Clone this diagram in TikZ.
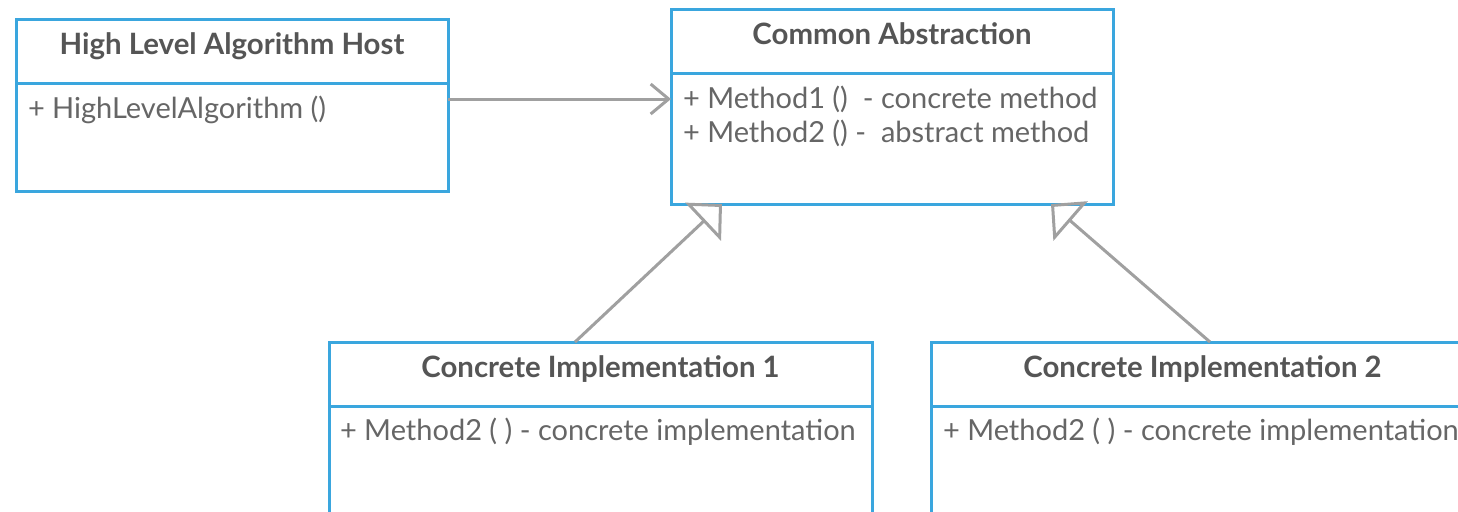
\documentclass[tikz,border=0pt]{standalone}
\usepackage{fontspec}
\setmainfont{Lato}
\usetikzlibrary{arrows.meta, positioning}
\definecolor{umlblue}{HTML}{3AA6DE}
\definecolor{linkgray}{HTML}{A0A0A0}
\definecolor{titlegray}{HTML}{555555}
\definecolor{textgray}{HTML}{666666}

\begin{document}
\begin{tikzpicture}[
    every node/.style={inner sep=0pt, outer sep=0pt},
    hd/.style={draw=umlblue, line width=1.5pt, fill=white, minimum height=32pt, text height=8pt, text depth=5pt, font=\fontsize{14.7}{17}\selectfont\bfseries, text=titlegray},
    bd/.style={draw=umlblue, line width=1.5pt, fill=white},
    mt/.style={anchor=base west, font=\fontsize{14.5}{17}\selectfont, text=textgray},
    assoc/.style={-{Straight Barb[length=9pt, width=15pt]}, draw=linkgray, line width=1.5pt},
    inh/.style={-{Triangle[open, length=13pt, width=26pt]}, draw=linkgray, line width=1.5pt}
]
\useasboundingbox (0,0) rectangle (729pt,-255.5pt);
\clip (0,0) rectangle (729pt,-255.5pt);

% host class
\node[hd, minimum width=216pt] (hostH) at (116pt,-25.5pt) {High Level Algorithm Host};
\node[bd, minimum width=216pt, minimum height=54pt, below=0pt of hostH] (hostB) {};
\node[mt] (hostM) at ([shift={(6pt,-17.5pt)}]hostB.north west) {+ HighLevelAlgorithm ()};

% abstraction
\node[hd, minimum width=221pt] (absH) at (446pt,-20.5pt) {Common Abstraction};
\node[bd, minimum width=221pt, minimum height=65.5pt, below=0pt of absH] (absB) {};
\node[mt] (absMa) at ([shift={(6pt,-17.5pt)}]absB.north west) {+ Method1 ()\ \ - concrete method};
\node[mt] (absMb) at ([shift={(6pt,-34.5pt)}]absB.north west) {+ Method2 () -\ \ abstract method};

% implementations
\node[hd, minimum width=271.5pt] (implAH) at (300.25pt,-187pt) {Concrete Implementation 1};
\node[bd, minimum width=271.5pt, minimum height=77pt, below=0pt of implAH] (implAB) {};
\node[mt] (implAM) at ([shift={(5.5pt,-17pt)}]implAB.north west) {+ Method2 ( ) - concrete implementation};

\node[hd, minimum width=271.5pt] (implBH) at (601.25pt,-187pt) {Concrete Implementation 2};
\node[bd, minimum width=271.5pt, minimum height=77pt, below=0pt of implBH] (implBB) {};
\node[mt] (implBM) at ([shift={(6pt,-17pt)}]implBB.north west) {+ Method2 ( ) - concrete implementation};

\draw[assoc] ([yshift=19pt]hostB.east) -- ([yshift=19.75pt]absB.west);
\draw[inh] ([xshift=-12.75pt]implAH.north) -- ([xshift=-85pt]absB.south);
\draw[inh] ([xshift=3.75pt]implBH.north) -- ([xshift=79.5pt]absB.south);
\end{tikzpicture}
\end{document}
